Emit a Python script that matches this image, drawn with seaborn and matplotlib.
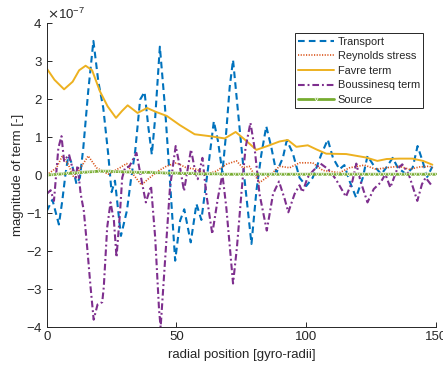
import numpy as np
import pandas as pd
import matplotlib
matplotlib.use("Agg")
import matplotlib.pyplot as plt
import seaborn as sns
from matplotlib.ticker import ScalarFormatter

# ---------------- data (values in units of 1e-7) ----------------
transport_x = [0, 2.2, 4.7, 6.0, 7.2, 8.3, 9.6, 11.5, 12.8, 14.1, 16.0, 18.0, 19.9, 21.8, 23.7,
               25.0, 26.3, 28.6, 30.9, 32.5, 34.1, 36.0, 37.7, 39.2, 40.5, 41.8, 43.6, 45.6,
               47.5, 49.5, 51.4, 53.0, 55.5, 57.7, 59.6, 62.2, 64.4, 66.0, 67.7, 69.2, 70.5,
               71.8, 73.7, 76.3, 78.9, 80.8, 82.7, 84.6, 86.6, 88.5, 91.0, 92.5, 94.8, 97.4,
               100.0, 102.5, 105.8, 108.3, 110.3, 112.8, 114.7, 116.7, 119.2, 121.8, 123.6,
               125.7, 128.9, 130.8, 133.3, 135.3, 138.5, 141.0, 142.9, 144.8, 146.6, 148.6]
transport_y = [-0.95, -0.65, -1.3, -0.68, 0.0, 0.5, 0.32, -0.24, -0.07, 0.71, 2.2, 3.52, 2.45,
               1.76, 0.55, -0.45, -0.15, -1.6, -0.94, -0.1, 0.63, 1.98, 2.18, 1.24, 0.54, 1.5,
               3.37, 1.76, -0.16, -2.25, -1.2, -0.9, -1.77, -0.76, -1.18, 0.19, 1.41, 0.89,
               0.06, 1.15, 2.3, 3.02, 1.67, -0.16, -1.81, -0.42, 0.54, 1.28, 0.71, 0.06, 0.45,
               0.91, 0.58, -0.07, -0.29, -0.07, 0.54, 0.93, 0.45, 0.15, 0.26, -0.16, -0.59,
               -0.07, 0.5, 0.28, 0.02, 0.19, 0.45, 0.19, 0.02, 0.19, 0.76, 0.37, -0.05, 0.22]

reynolds_x = [0, 3.8, 6.0, 8.3, 10.2, 12.2, 16.0, 19.2, 23.7, 28.2, 30.8, 33.3, 36.5, 39.7,
              42.9, 46.1, 50.0, 53.8, 57.7, 61.5, 65.4, 69.2, 73.1, 75.6, 78.0, 82.0, 86.5,
              89.7, 93.6, 97.4, 102.5, 106.4, 112.8, 116.7, 122.4, 126.9, 130.8, 135.9, 139.7,
              143.6, 147.5, 148.7]
reynolds_y = [0.0, 0.19, 0.5, 0.28, -0.03, 0.1, 0.5, 0.19, 0.02, 0.19, 0.3, 0.02, -0.26, -0.07,
              0.1, 0.23, 0.32, 0.19, 0.15, 0.02, 0.1, 0.28, 0.37, 0.19, 0.23, -0.2, 0.02, 0.23,
              0.19, 0.32, 0.32, 0.12, 0.06, 0.19, 0.26, 0.15, 0.19, 0.23, 0.15, 0.21, 0.23, 0.19]

favre_x = [0, 3.0, 6.7, 10.0, 12.5, 15.0, 17.5, 20.5, 23.5, 26.7, 29.0, 31.2, 35.0, 38.7, 42.0,
           46.3, 51.3, 57.0, 62.8, 68.6, 72.8, 76.5, 80.8, 85.0, 89.7, 92.9, 96.2, 100.6,
           104.0, 107.7, 115.4, 123.0, 127.4, 131.0, 135.9, 140.9, 145.0, 148.6]
favre_y = [2.8, 2.5, 2.25, 2.45, 2.75, 2.87, 2.75, 2.2, 1.8, 1.5, 1.68, 1.83, 1.63, 1.76, 1.66,
           1.55, 1.31, 1.07, 1.02, 0.96, 1.13, 0.92, 0.66, 0.76, 0.88, 0.92, 0.74, 0.78, 0.67,
           0.56, 0.55, 0.46, 0.37, 0.42, 0.43, 0.43, 0.37, 0.27]

bous_x = [0, 1.5, 2.8, 4.5, 5.7, 6.7, 8.6, 9.9, 11.2, 11.9, 13.1, 14.3, 15.6, 16.9, 18.1, 19.6,
          21.4, 22.0, 23.3, 24.6, 25.9, 26.9, 28.2, 29.1, 30.2, 31.8, 34.6, 36.6, 38.2, 40.2,
          41.8, 43.3, 43.9, 45.6, 47.5, 49.7, 51.4, 52.9, 55.6, 57.2, 58.2, 60.0, 61.5, 63.8,
          66.0, 67.7, 69.2, 70.8, 71.8, 73.3, 75.0, 76.6, 78.5, 80.1, 82.0, 84.8, 87.2, 89.5,
          91.7, 93.1, 95.5, 97.4, 98.6, 100.5, 102.5, 105.5, 108.5, 111.4, 115.3, 117.8,
          119.3, 120.9, 123.6, 126.0, 128.6, 130.5, 132.4, 135.0, 137.0, 139.5, 142.8,
          144.6, 146.0, 148.6]
bous_y = [-0.5, -0.4, -0.68, 0.71, 1.02, 0.37, 0.54, 0.19, -0.07, 0.25, -0.5, -0.94, -1.9,
          -2.94, -3.8, -3.4, -3.34, -2.94, -1.38, -0.72, -1.2, -2.16, -1.03, -0.07, 0.19, 0.22,
          0.58, -0.16, -0.72, -0.29, -1.64, -3.55, -4.0, -2.25, -0.33, 0.76, 0.19, -0.42, 0.67,
          0.1, -0.11, 0.45, -0.5, -1.55, -0.59, 0.02, -0.85, -2.07, -2.85, -1.9, -0.5, 0.71,
          1.37, 0.71, -0.5, -1.46, -0.5, -0.17, -0.63, -0.98, -0.5, -0.27, -0.45, -0.07, 0.1,
          0.3, 0.15, -0.11, -0.57, -0.16, 0.3, -0.16, -0.72, -0.37, -0.2, 0.02, -0.33, 0.15,
          0.28, 0.02, -0.68, -0.24, -0.07, -0.3]

source_x = list(range(0, 151, 2))
source_y = [0.00, 0.01, 0.02, 0.03, 0.04, 0.05,
            0.06, 0.07, 0.08, 0.09, 0.10, 0.10, 0.10, 0.09, 0.09, 0.08,
            0.08, 0.07, 0.07, 0.07, 0.07, 0.06, 0.06, 0.05, 0.05, 0.05,
            0.04, 0.04, 0.04, 0.03, 0.03, 0.03, 0.03, 0.03, 0.02, 0.02,
            0.02, 0.02, 0.02, 0.02, 0.02, 0.02, 0.02, 0.02, 0.02, 0.02,
            0.02, 0.02, 0.02, 0.02, 0.02, 0.02, 0.02, 0.02, 0.02, 0.02,
            0.02, 0.02, 0.02, 0.02, 0.02, 0.02, 0.02, 0.02, 0.02, 0.02,
            0.02, 0.02, 0.02, 0.02, 0.02, 0.02, 0.02, 0.02, 0.02, 0.02]

labels = ["Transport", "Reynolds stress", "Favre term", "Boussinesq term", "Source"]
x_ticks = [0, 50, 100, 150]
y_ticks = [-4, -3, -2, -1, 0, 1, 2, 3, 4]
SCALE = 1e-7

series = {
    "Transport": (transport_x, transport_y),
    "Reynolds stress": (reynolds_x, reynolds_y),
    "Favre term": (favre_x, favre_y),
    "Boussinesq term": (bous_x, bous_y),
    "Source": (source_x, source_y),
}

# ---------------- style ----------------
sns.set_style("ticks")
plt.rcParams["font.family"] = ["Liberation Sans", "DejaVu Sans"]
FS = 9.5
plt.rcParams["font.size"] = FS
plt.rcParams["axes.unicode_minus"] = False
plt.rcParams["axes.edgecolor"] = "#262626"
plt.rcParams["xtick.color"] = "#262626"
plt.rcParams["ytick.color"] = "#262626"
plt.rcParams["xtick.direction"] = "in"
plt.rcParams["ytick.direction"] = "in"

colors = {"Transport": "#0072BD", "Reynolds stress": "#D95319", "Favre term": "#EDB120",
          "Boussinesq term": "#7E2F8E", "Source": "#77AC30"}
styles = {"Transport": dict(linestyle=(0, (3.2, 2.0)), linewidth=1.5),
          "Reynolds stress": dict(linestyle=(0, (0.7, 0.9)), linewidth=1.2),
          "Favre term": dict(linestyle="-", linewidth=1.4),
          "Boussinesq term": dict(linestyle=(0, (3.2, 1.4, 0.9, 1.4)), linewidth=1.5),
          "Source": dict(linestyle="-", linewidth=2.0, marker="v", markersize=2.4,
                         markeredgewidth=0.5)}

fig = plt.figure(figsize=(4.43, 3.69), dpi=100)
ax = fig.add_axes([0.1054, 0.1130, 0.9842 - 0.1054, 0.9385 - 0.1130])

for name in labels:
    xs, ys = series[name]
    df = pd.DataFrame({"x": xs, "y": np.array(ys) * SCALE})
    sns.lineplot(data=df, x="x", y="y", ax=ax, color=colors[name], label=name,
                 estimator=None, sort=False, **styles[name])

ax.set_xlim(0, 150)
ax.set_ylim(-4e-7, 4e-7)
ax.set_xticks(x_ticks)
ax.set_yticks([t * SCALE for t in y_ticks])
fmt = ScalarFormatter(useMathText=True)
fmt.set_powerlimits((0, 0))
ax.yaxis.set_major_formatter(fmt)
ax.tick_params(axis="both", length=3.5, width=0.7, labelsize=FS, pad=3)
ax.yaxis.get_offset_text().set_fontsize(FS)
for s in ["left", "bottom"]:
    ax.spines[s].set_linewidth(0.7)
sns.despine(ax=ax)
ax.set_xlabel("radial position [gyro-radii]", fontsize=FS, color="#262626", labelpad=4)
ax.set_ylabel("magnitude of term [-]", fontsize=FS, color="#262626", labelpad=1)

leg = ax.legend(loc="upper right", bbox_to_anchor=(0.967, 0.965), fontsize=7.9,
                frameon=True, fancybox=False, edgecolor="#262626", framealpha=1,
                handlelength=3.3, labelspacing=0.42, borderpad=0.3, handletextpad=0.3,
                borderaxespad=0)
leg.get_frame().set_linewidth(0.7)

fig.savefig("out.png", dpi=100)
